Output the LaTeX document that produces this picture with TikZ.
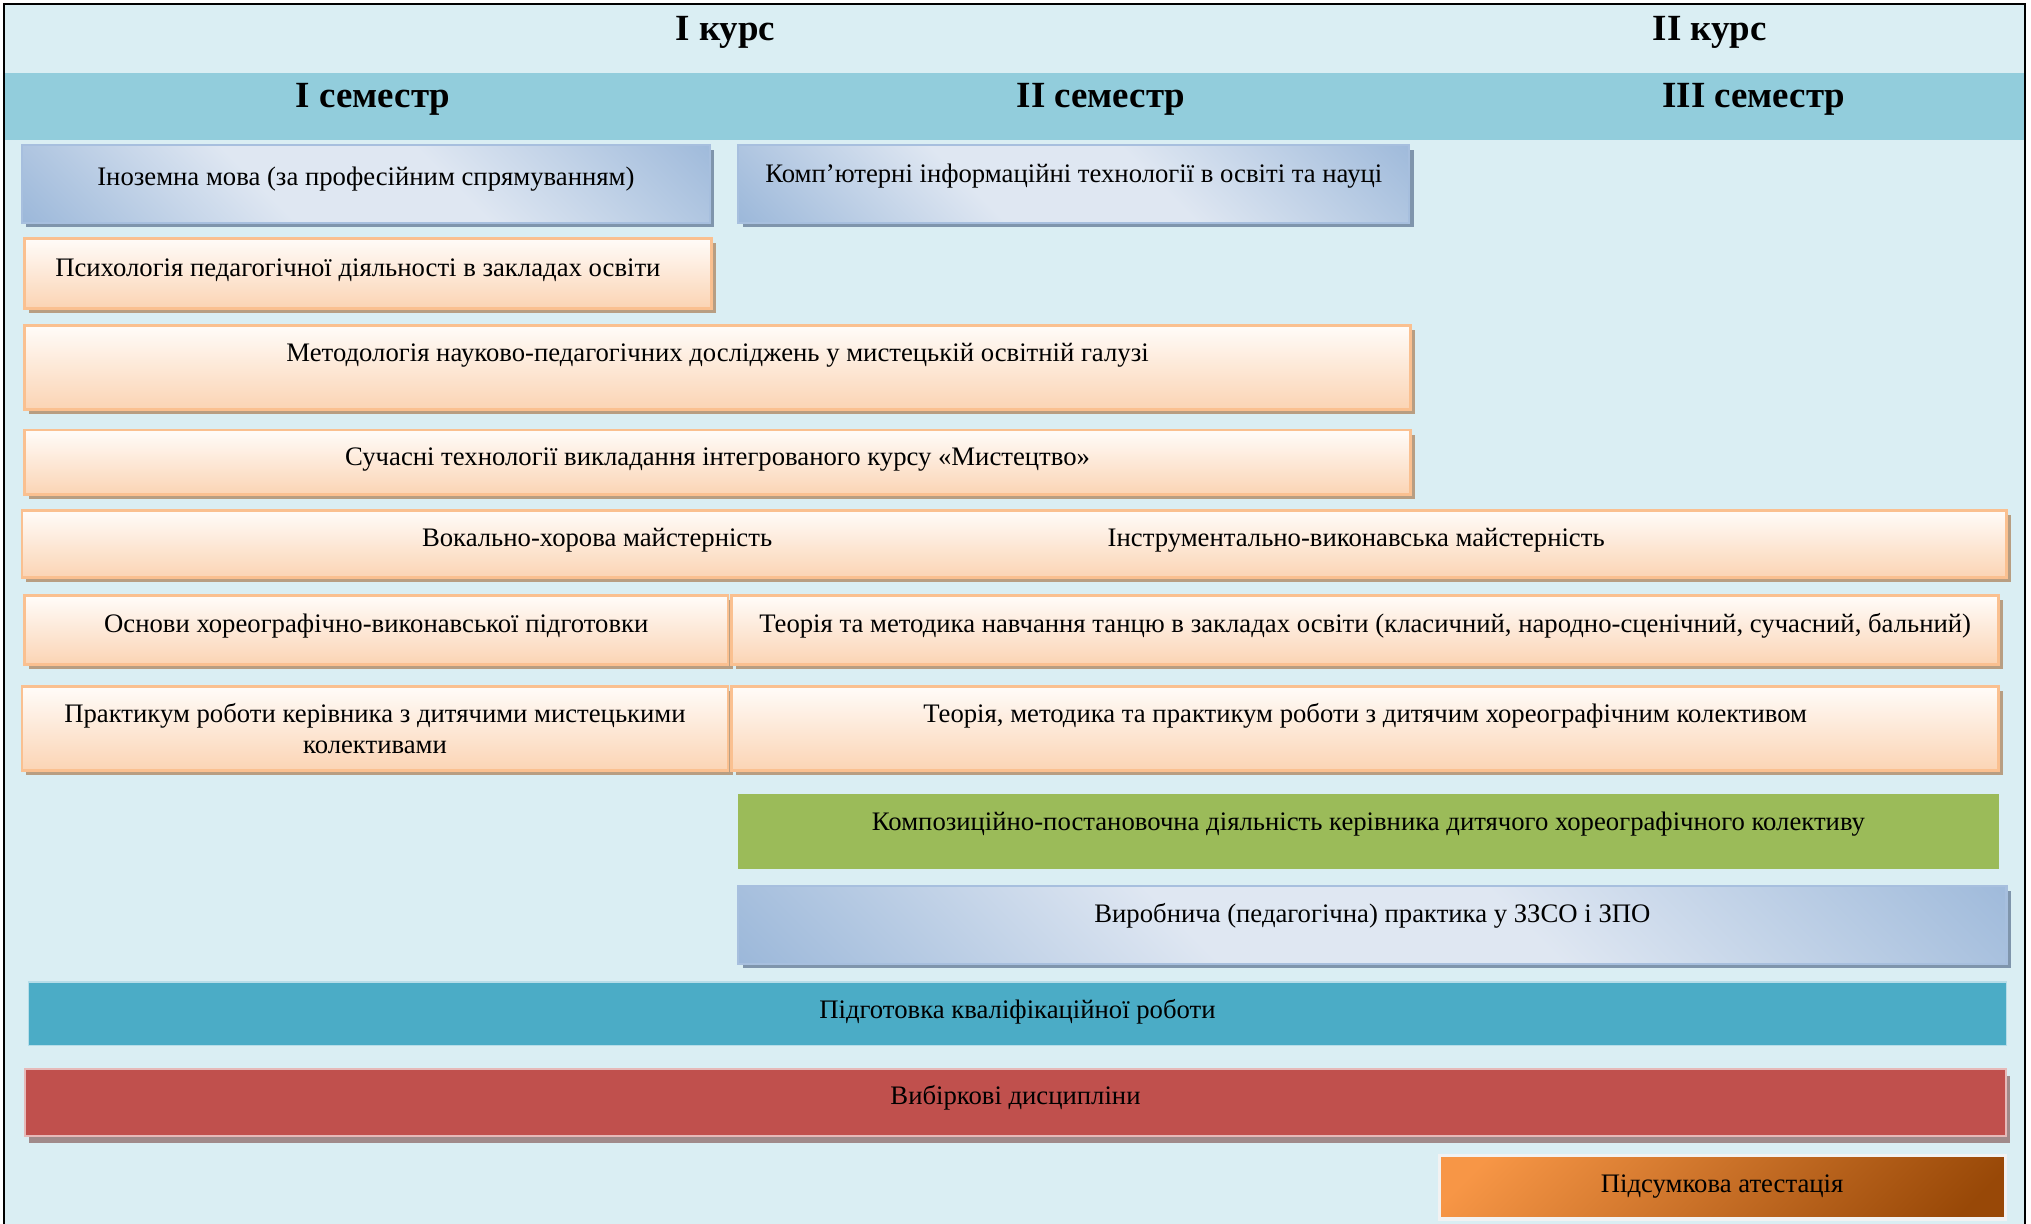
\documentclass[tikz,border=0pt]{standalone}
\usepackage{fontspec}
\setmainfont{Liberation Serif}
\usetikzlibrary{shadows}

\definecolor{pagebg}{HTML}{DAEEF3}
\definecolor{bandbg}{HTML}{92CDDC}
\definecolor{bluedk}{HTML}{95B3D7}
\definecolor{bluelt}{HTML}{DFE7F2}
\definecolor{blueln}{HTML}{A7BFDE}
\definecolor{blueshd}{HTML}{7F95AC}
\definecolor{orgtop}{HTML}{FFFCF9}
\definecolor{orgbot}{HTML}{FBD4B4}
\definecolor{orgln}{HTML}{FAC090}
\definecolor{orgshd}{HTML}{B89E82}
\definecolor{greenbox}{HTML}{9BBB59}
\definecolor{tealbox}{HTML}{4BACC6}
\definecolor{tealln}{HTML}{B6DDE8}
\definecolor{redbox}{HTML}{C0504D}
\definecolor{redln}{HTML}{E6B9B8}
\definecolor{redshd}{HTML}{A08A8A}
\definecolor{atlt}{HTML}{F79646}
\definecolor{atdk}{HTML}{984807}

\pgfdeclarehorizontalshading{bluegrad}{100bp}{color(0bp)=(bluedk); color(12bp)=(bluedk); color(40bp)=(bluelt); color(58bp)=(bluelt); color(90bp)=(bluedk); color(100bp)=(bluedk)}
\pgfdeclarehorizontalshading{atestgrad}{100bp}{color(0bp)=(atlt); color(20bp)=(atlt); color(80bp)=(atdk); color(100bp)=(atdk)}

\tikzset{
  heading/.style={font=\fontsize{10.5}{12}\selectfont\bfseries, inner sep=0pt},
  lbl/.style={font=\fontsize{7.6}{8.6}\selectfont, inner sep=0pt, align=center},
  box/.style={rectangle, inner sep=0pt},
  bluebox/.style={box, draw=blueln, line width=0.6pt, shading=bluegrad, shading angle=45,
    drop shadow={shadow xshift=0.045cm, shadow yshift=-0.045cm, fill=blueshd, opacity=1}},
  orangebox/.style={box, draw=orgln, line width=0.8pt, top color=orgtop, bottom color=orgbot,
    drop shadow={shadow xshift=0.045cm, shadow yshift=-0.045cm, fill=orgshd, opacity=1}},
  greenbx/.style={box, fill=greenbox},
  tealbx/.style={box, fill=tealbox, draw=tealln, line width=0.4pt},
  redbx/.style={box, fill=redbox, draw=redln, line width=0.6pt,
    drop shadow={shadow xshift=0.04cm, shadow yshift=-0.07cm, fill=redshd, opacity=1}},
  atestbx/.style={box, shading=atestgrad, shading angle=-45, draw=white!95!black, line width=0.9pt}
}

\begin{document}
\begin{tikzpicture}
\useasboundingbox (0,0) rectangle (20.31,-12.23);
\draw[line width=0.8pt, fill=pagebg] (0.04,-0.04) rectangle (20.25,-13);
\fill[bandbg] (0.055,-0.725) rectangle (20.235,-1.399);

\node[heading] (kurs1) at (7.254,-0.325) {I курс};
\node[heading] (kurs2) at (17.098,-0.325) {II курс};
\node[heading] (sem1) at (3.730,-0.998) {I семестр};
\node[heading] (sem2) at (11.010,-0.998) {II семестр};
\node[heading] (sem3) at (17.538,-0.998) {III семестр};

\node[bluebox, minimum width=6.878cm, minimum height=0.777cm] (ino) at (3.659,-1.839) {};
\node[bluebox, minimum width=6.710cm, minimum height=0.777cm] (komp) at (10.738,-1.839) {};
\node[orangebox, minimum width=6.865cm, minimum height=0.700cm] (psych) at (3.679,-2.733) {};
\node[orangebox, minimum width=13.860cm, minimum height=0.842cm] (metod) at (7.176,-3.672) {};
\node[orangebox, minimum width=13.860cm, minimum height=0.648cm] (tech) at (7.176,-4.624) {};
\node[orangebox, minimum width=19.844cm, minimum height=0.674cm] (vocal) at (10.142,-5.440) {};
\node[orangebox, minimum width=7.034cm, minimum height=0.687cm] (osnovy) at (3.763,-6.301) {};
\node[orangebox, minimum width=12.668cm, minimum height=0.687cm] (tanec) at (13.652,-6.301) {};
\node[orangebox, minimum width=7.060cm, minimum height=0.842cm] (prakt) at (3.750,-7.286) {};
\node[orangebox, minimum width=12.668cm, minimum height=0.842cm] (kolektyv) at (13.652,-7.286) {};
\node[greenbx, minimum width=12.603cm, minimum height=0.751cm] (kompoz) at (13.685,-8.316) {};
\node[bluebox, minimum width=12.681cm, minimum height=0.777cm] (vyrob) at (13.724,-9.249) {};
\node[tealbx, minimum width=19.779cm, minimum height=0.635cm] (kval) at (10.175,-10.136) {};
\node[redbx, minimum width=19.818cm, minimum height=0.674cm] (vybir) at (10.155,-11.023) {};
\node[atestbx, minimum width=5.660cm, minimum height=0.635cm] (atest) at (17.221,-11.872) {};

\node[lbl, anchor=base] (ino-t) at ([yshift=-0.41cm]ino.north) {Іноземна мова (за професійним спрямуванням)};
\node[lbl, anchor=base] (komp-t) at ([yshift=-0.38cm]komp.north) {Комп’ютерні інформаційні технології в освіті та науці};
\node[lbl, anchor=base] (psych-t) at ([xshift=-0.1cm, yshift=-0.40cm]psych.north) {Психологія педагогічної діяльності в закладах освіти};
\node[lbl, anchor=base] (metod-t) at ([yshift=-0.38cm]metod.north) {Методологія науково-педагогічних досліджень у мистецькій освітній галузі};
\node[lbl, anchor=base] (tech-t) at ([yshift=-0.37cm]tech.north) {Сучасні технології викладання інтегрованого курсу «Мистецтво»};
\node[lbl, anchor=base] (vocal-t) at ([yshift=-0.38cm]vocal.north -| 5.971,0) {Вокально-хорова майстерність};
\node[lbl, anchor=base] (instr-t) at ([yshift=-0.38cm]vocal.north -| 13.562,0) {Інструментально-виконавська майстерність};
\node[lbl, anchor=base] (osnovy-t) at ([yshift=-0.38cm]osnovy.north) {Основи хореографічно-виконавської підготовки};
\node[lbl, anchor=base] (tanec-t) at ([yshift=-0.38cm]tanec.north) {Теорія та методика навчання танцю в закладах освіти (класичний, народно-сценічний, сучасний, бальний)};
\node[lbl] (prakt-t) at (prakt.center) {Практикум роботи керівника з дитячими мистецькими\\колективами};
\node[lbl, anchor=base] (kolektyv-t) at ([yshift=-0.37cm]kolektyv.north) {Теорія, методика та практикум роботи з дитячим хореографічним колективом};
\node[lbl, anchor=base] (kompoz-t) at ([yshift=-0.37cm]kompoz.north) {Композиційно-постановочна діяльність керівника дитячого хореографічного колективу};
\node[lbl, anchor=base] (vyrob-t) at ([yshift=-0.37cm]vyrob.north) {Виробнича (педагогічна) практика у ЗЗСО і ЗПО};
\node[lbl, anchor=base] (kval-t) at ([yshift=-0.37cm]kval.north) {Підготовка кваліфікаційної роботи};
\node[lbl, anchor=base] (vybir-t) at ([yshift=-0.37cm]vybir.north) {Вибіркові дисципліни};
\node[lbl, anchor=base] (atest-t) at ([yshift=-0.39cm]atest.north) {Підсумкова атестація};
\end{tikzpicture}
\end{document}
